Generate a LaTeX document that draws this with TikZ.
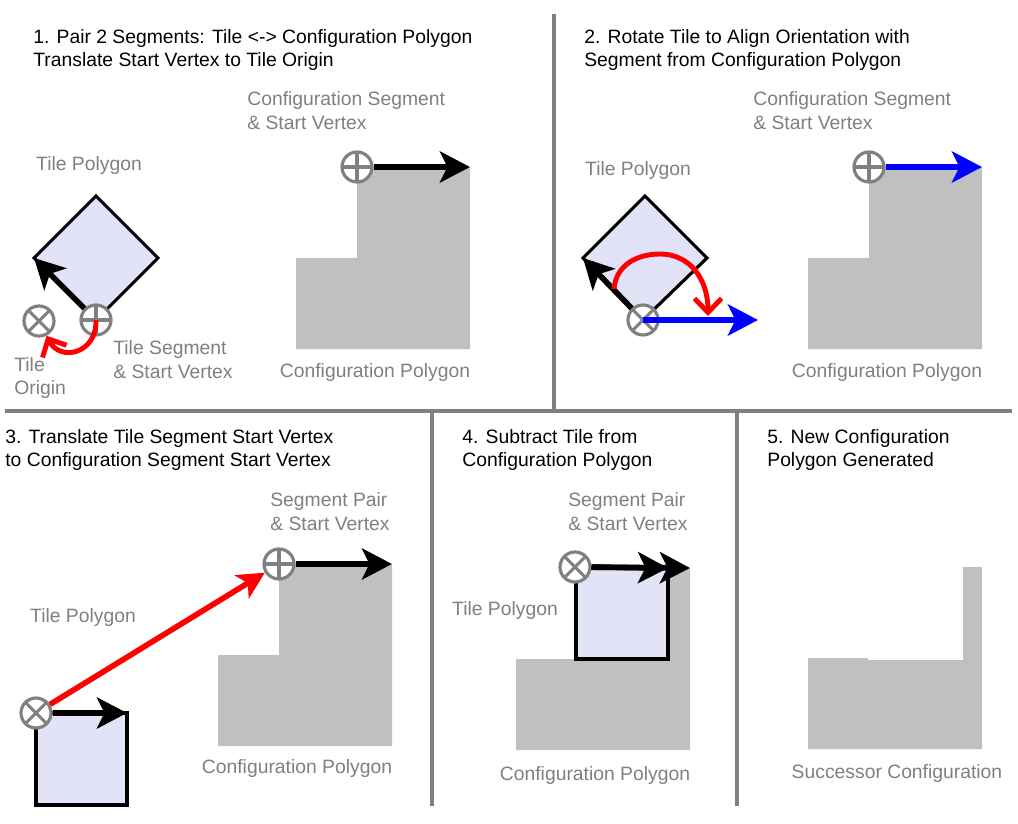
\documentclass[tikz,border=0pt]{standalone}
\usepackage{fontspec}
\setmainfont{Liberation Sans}
\usepackage{xcolor}
\usepackage{tikz}
\usetikzlibrary{arrows.meta,calc,positioning}
\definecolor{colorTile}{HTML}{E3E3F7}
\definecolor{colorConf}{HTML}{C0C0C0}
\definecolor{colorMark}{HTML}{808080}
\colorlet{colorLbl}{colorMark}
\colorlet{colorSeg}{black}
\colorlet{colorMove}{red}
\colorlet{colorRot}{blue}
\tikzset{
   every path/.style={>=stealth},
   seg/.style={-{Stealth[length=6mm,width=6.2mm,inset=1.5mm]},color=colorSeg,line width=3.2pt},
   rseg/.style={seg,color=colorRot},
   mv/.style={-{Stealth[length=5.4mm,width=5.4mm,inset=1.4mm]},color=colorMove,line width=3.2pt},
   swing/.style={-{Straight Barb[length=2.8mm,width=5.4mm]},color=colorMove,line width=2.8pt},
   tile/.style={fill=colorTile,draw=black,line width=1.8pt},
   conf/.style={fill=colorConf},
   divider/.style={draw=colorMark,line width=2.8pt},
}

\begin{document}
\begin{tikzpicture}[x=0.02cm, y=-0.02cm,
    vert/.style={circle, draw=colorMark, fill=white, line width=1.8pt, minimum size=6mm, inner sep=0pt},
    vstart/.style={vert, path picture={\draw[colorMark,line width=1.8pt]
        (path picture bounding box.north) -- (path picture bounding box.south)
        (path picture bounding box.west) -- (path picture bounding box.east);}},
    vorigin/.style={vert, path picture={\draw[colorMark,line width=1.8pt]
        (path picture bounding box.north west) -- (path picture bounding box.south east)
        (path picture bounding box.north east) -- (path picture bounding box.south west);}},
    head/.style={font=\fontsize{11pt}{13.6pt}\selectfont, align=left, inner sep=0pt, anchor=west},
    lbl/.style={head, text=colorLbl},
]
\fill[white] (0,0) rectangle (1018,824);
\useasboundingbox (0,0) rectangle (1018,824);

% ------------------------------------------------------------
% Dividers
% ------------------------------------------------------------
\draw[divider] (554,14) -- (554,411);
\draw[divider] (5,411) -- (1012,411);
\draw[divider] (432,411) -- (432,806);
\draw[divider] (737,411) -- (737,806);

% ------------------------------------------------------------
% 1. Pair segments
% ------------------------------------------------------------
\node[head] (h1) at (33,50) {1. Pair 2 Segments: Tile <-> Configuration Polygon\\Translate Start Vertex to Tile Origin};

\fill[conf] (296,258) -- (357,258) -- (357,167) -- (470,167) -- (470,349) -- (296,349) -- cycle;
\coordinate (ce1) at (470,167);
\node[vstart] (cs1) at (357,167) {};
\draw[seg] (cs1) -- (ce1);

\coordinate (t1n) at (96,196);
\coordinate (t1e) at (158,258);
\coordinate (t1s) at (96,320);
\coordinate (t1w) at (34,258);
\draw[tile] (t1n) -- (t1e) -- (t1s) -- (t1w) -- cycle;
\node[vstart] (ts1) at (t1s) {};
\node[vorigin] (to1) at (39,321) {};
\draw[seg] (ts1) -- (t1w);
\draw[swing] (ts1.center) .. controls (97,354) and (60,362) .. (to1);

\node[lbl, anchor=center] (l1tile) at (89,166) {Tile Polygon};
\node[lbl] (l1conf) at (247,111) {Configuration Segment\\\& Start Vertex};
\node[lbl] (l1seg) at (113,360) {Tile Segment\\\& Start Vertex};
\node[lbl] (l1orig) at (14,378) {Tile\\Origin};
\node[lbl, anchor=center] (l1poly) at (375,373) {Configuration Polygon};

% ------------------------------------------------------------
% 2. Rotate tile
% ------------------------------------------------------------
\node[head] (h2) at (584,50) {2. Rotate Tile to Align Orientation with\\Segment from Configuration Polygon};

\fill[conf] (808,258) -- (869,258) -- (869,167) -- (982,167) -- (982,349) -- (808,349) -- cycle;
\coordinate (ce2) at (982,167);
\node[vstart] (cs2) at (869,167) {};
\draw[rseg] (cs2) -- (ce2);

\coordinate (t2n) at (645,196);
\coordinate (t2e) at (707,258);
\coordinate (t2s) at (643,320);
\coordinate (t2w) at (583,258);
\draw[tile] (t2n) -- (t2e) -- (t2s) -- (t2w) -- cycle;
\node[vorigin] (to2) at (t2s) {};
\draw[seg] (to2) -- (t2w);
\coordinate (re2) at (758,320);
\draw[rseg] (to2.center) -- (re2);
\coordinate (ra2) at (614,289);
\coordinate (rb2) at (708,316);
\draw[swing] (ra2) .. controls (616,265) and (637,254) .. (660,254)
                   .. controls (689,254) and (708,278) .. (rb2);

\node[lbl, anchor=center] (l2tile) at (638,171) {Tile Polygon};
\node[lbl] (l2conf) at (753,111) {Configuration Segment\\\& Start Vertex};
\node[lbl, anchor=center] (l2poly) at (887,373) {Configuration Polygon};

% ------------------------------------------------------------
% 3. Translate tile
% ------------------------------------------------------------
\node[head] (h3) at (5,450) {3. Translate Tile Segment Start Vertex\\to Configuration Segment Start Vertex};

\fill[conf] (218,655) -- (279,655) -- (279,564) -- (392,564) -- (392,746) -- (218,746) -- cycle;
\coordinate (ce3) at (392,564);
\node[vstart] (cs3) at (279,564) {};
\draw[seg] (cs3) -- (ce3);

\draw[tile] (36,713) rectangle (127,805);
\coordinate (te3) at (127,713);
\node[vorigin] (to3) at (36,713) {};
\draw[seg] (to3) -- (te3);
\draw[mv] (to3) -- (cs3);

\node[lbl, anchor=center] (l3tile) at (83,617) {Tile Polygon};
\node[lbl] (l3pair) at (270,512) {Segment Pair\\\& Start Vertex};
\node[lbl, anchor=center] (l3poly) at (297,768) {Configuration Polygon};

% ------------------------------------------------------------
% 4. Subtract tile
% ------------------------------------------------------------
\node[head] (h4) at (462,450) {4. Subtract Tile from\\Configuration Polygon};

\fill[conf] (516,659) -- (577,659) -- (577,568) -- (690,568) -- (690,750) -- (516,750) -- cycle;
\draw[tile] (576,568) rectangle (668,659);
\node[vorigin] (to4) at (575,567) {};
\coordinate (te4) at (668,568);
\coordinate (ce4) at (690,568);
\draw[seg] (to4) -- (ce4);
\draw[seg] (to4) -- (te4);

\node[lbl, anchor=center] (l4tile) at (505,611) {Tile Polygon};
\node[lbl] (l4pair) at (568,512) {Segment Pair\\\& Start Vertex};
\node[lbl, anchor=center] (l4poly) at (595,775) {Configuration Polygon};

% ------------------------------------------------------------
% 5. Successor
% ------------------------------------------------------------
\node[head] (h5) at (767,450) {5. New Configuration\\Polygon Generated};

\fill[conf] (808,658) -- (868,658) -- (868,660) -- (963,660) -- (963,567) -- (982,567) -- (982,749) -- (808,749) -- cycle;

\node[lbl, anchor=center] (l5poly) at (897,773) {Successor Configuration};
\end{tikzpicture}
\end{document}
